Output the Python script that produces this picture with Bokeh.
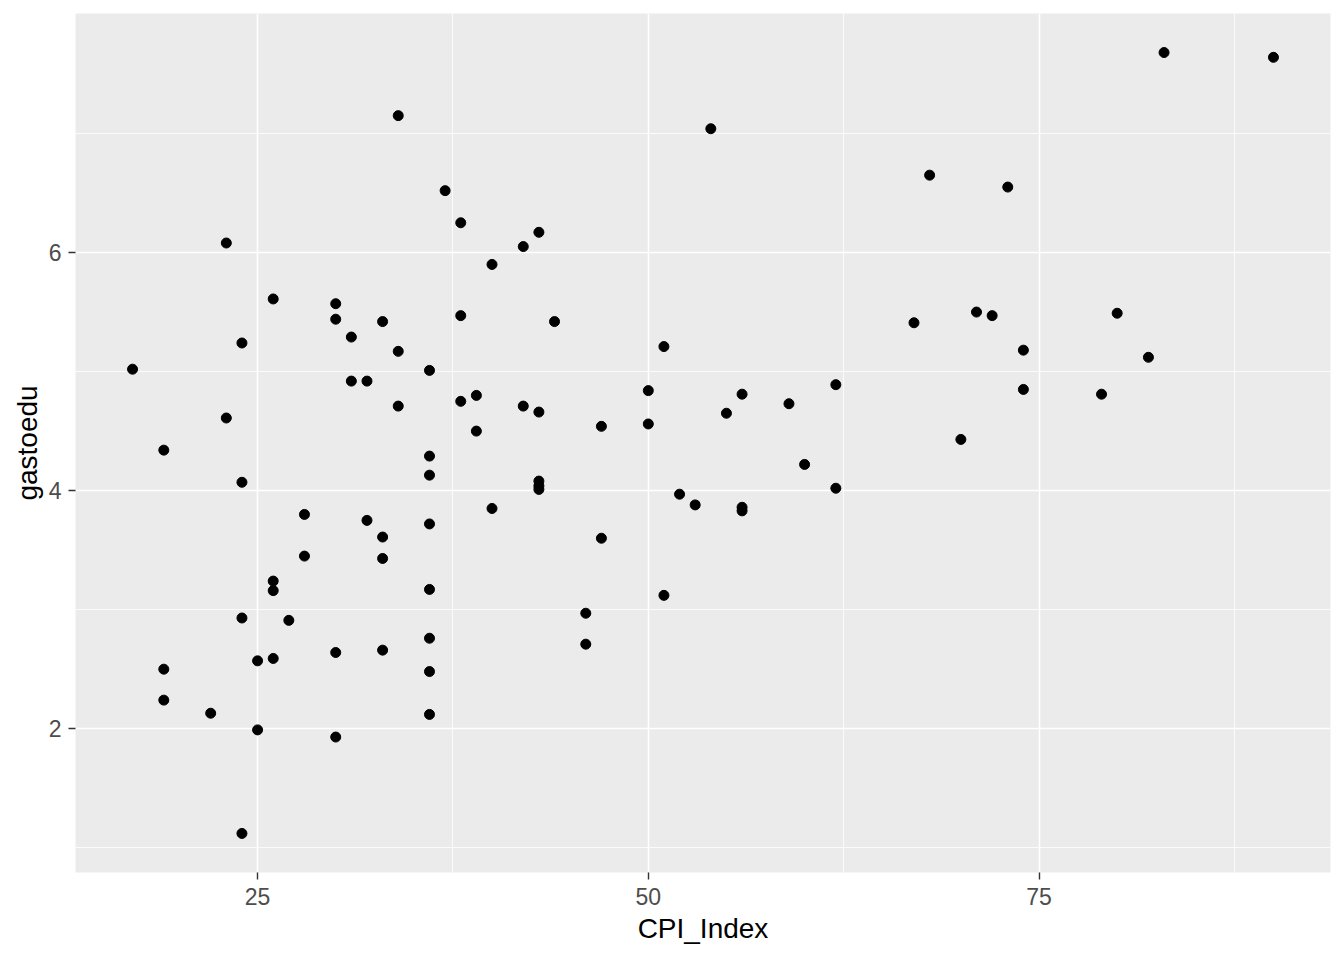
from bokeh.plotting import figure
from bokeh.models import Range1d, FixedTicker
from bokeh.embed import file_html
from bokeh.resources import INLINE

# Data (CPI_Index vs gastoedu)
cpi_index = [17, 19, 19, 19, 22, 23, 23, 24, 24, 24, 24, 25, 25, 26, 26, 26, 26, 27, 28, 28,
             30, 30, 30, 30, 31, 31, 32, 32, 33, 33, 33, 33, 34, 34, 34, 36, 36, 36, 36, 36,
             36, 36, 36, 37, 38, 38, 38, 39, 39, 40, 40, 42, 42, 43, 43, 43, 43, 43, 44, 46,
             46, 47, 47, 50, 50, 51, 51, 52, 53, 54, 55, 56, 56, 56, 59, 60, 62, 62, 67, 68,
             70, 71, 72, 73, 74, 74, 79, 80, 82, 83, 90]
gastoedu = [5.02, 4.34, 2.50, 2.24, 2.13, 6.08, 4.61, 5.24, 4.07, 2.93, 1.12, 2.57, 1.99, 5.61, 3.24, 3.16, 2.59, 2.91, 3.80, 3.45,
            5.57, 5.44, 2.64, 1.93, 5.29, 4.92, 4.92, 3.75, 5.42, 3.61, 3.43, 2.66, 7.15, 5.17, 4.71, 5.01, 4.29, 4.13, 3.72, 3.17,
            2.76, 2.48, 2.12, 6.52, 6.25, 5.47, 4.75, 4.80, 4.50, 5.90, 3.85, 6.05, 4.71, 6.17, 4.66, 4.08, 4.04, 4.01, 5.42, 2.97,
            2.71, 4.54, 3.60, 4.84, 4.56, 5.21, 3.12, 3.97, 3.88, 7.04, 4.65, 4.81, 3.86, 3.83, 4.73, 4.22, 4.89, 4.02, 5.41, 6.65,
            4.43, 5.50, 5.47, 6.55, 5.18, 4.85, 4.81, 5.49, 5.12, 7.68, 7.64]

x_ticks = [25, 50, 75]
x_minor = [37.5, 62.5, 87.5]
y_ticks = [2, 4, 6]
y_minor = [1, 3, 5, 7]

xmin, xmax = min(cpi_index), max(cpi_index)
ymin, ymax = min(gastoedu), max(gastoedu)
xpad = (xmax - xmin) * 0.05
ypad = (ymax - ymin) * 0.05

p = figure(width=1336, height=952, output_backend="svg", toolbar_location=None,
           x_range=Range1d(xmin - xpad, xmax + xpad),
           y_range=Range1d(ymin - ypad, ymax + ypad),
           min_border_left=75, min_border_right=6, min_border_top=13, min_border_bottom=80)

p.background_fill_color = "#EBEBEB"
p.border_fill_color = "white"
p.outline_line_color = None

xt = FixedTicker(ticks=x_ticks, minor_ticks=x_minor)
yt = FixedTicker(ticks=y_ticks, minor_ticks=y_minor)
p.xaxis.ticker = xt
p.yaxis.ticker = yt
p.xgrid.ticker = xt
p.ygrid.ticker = yt

for g in (p.xgrid, p.ygrid):
    g.grid_line_color = "white"
    g.grid_line_width = 1.6
    g.minor_grid_line_color = "white"
    g.minor_grid_line_width = 0.8

for ax in (p.xaxis, p.yaxis):
    ax.axis_line_color = None
    ax.major_tick_line_color = "#333333"
    ax.major_tick_line_width = 1.4
    ax.major_tick_out = 7
    ax.major_tick_in = 0
    ax.minor_tick_line_color = None
    ax.major_label_text_color = "#4D4D4D"
    ax.major_label_text_font = "Liberation Sans"
    ax.major_label_text_font_size = "23px"
    ax.axis_label_text_font = "Liberation Sans"
    ax.axis_label_text_font_size = "28px"
    ax.axis_label_text_font_style = "normal"
    ax.axis_label_text_color = "black"

p.xaxis.axis_label = "CPI_Index"
p.yaxis.axis_label = "gastoedu"
p.xaxis.major_label_standoff = 8
p.yaxis.major_label_standoff = 7
p.xaxis.axis_label_standoff = 5
p.yaxis.axis_label_standoff = 3

p.scatter(cpi_index, gastoedu, size=10, color="black", line_color="black")

open("out.html", "w").write(file_html(p, INLINE))
